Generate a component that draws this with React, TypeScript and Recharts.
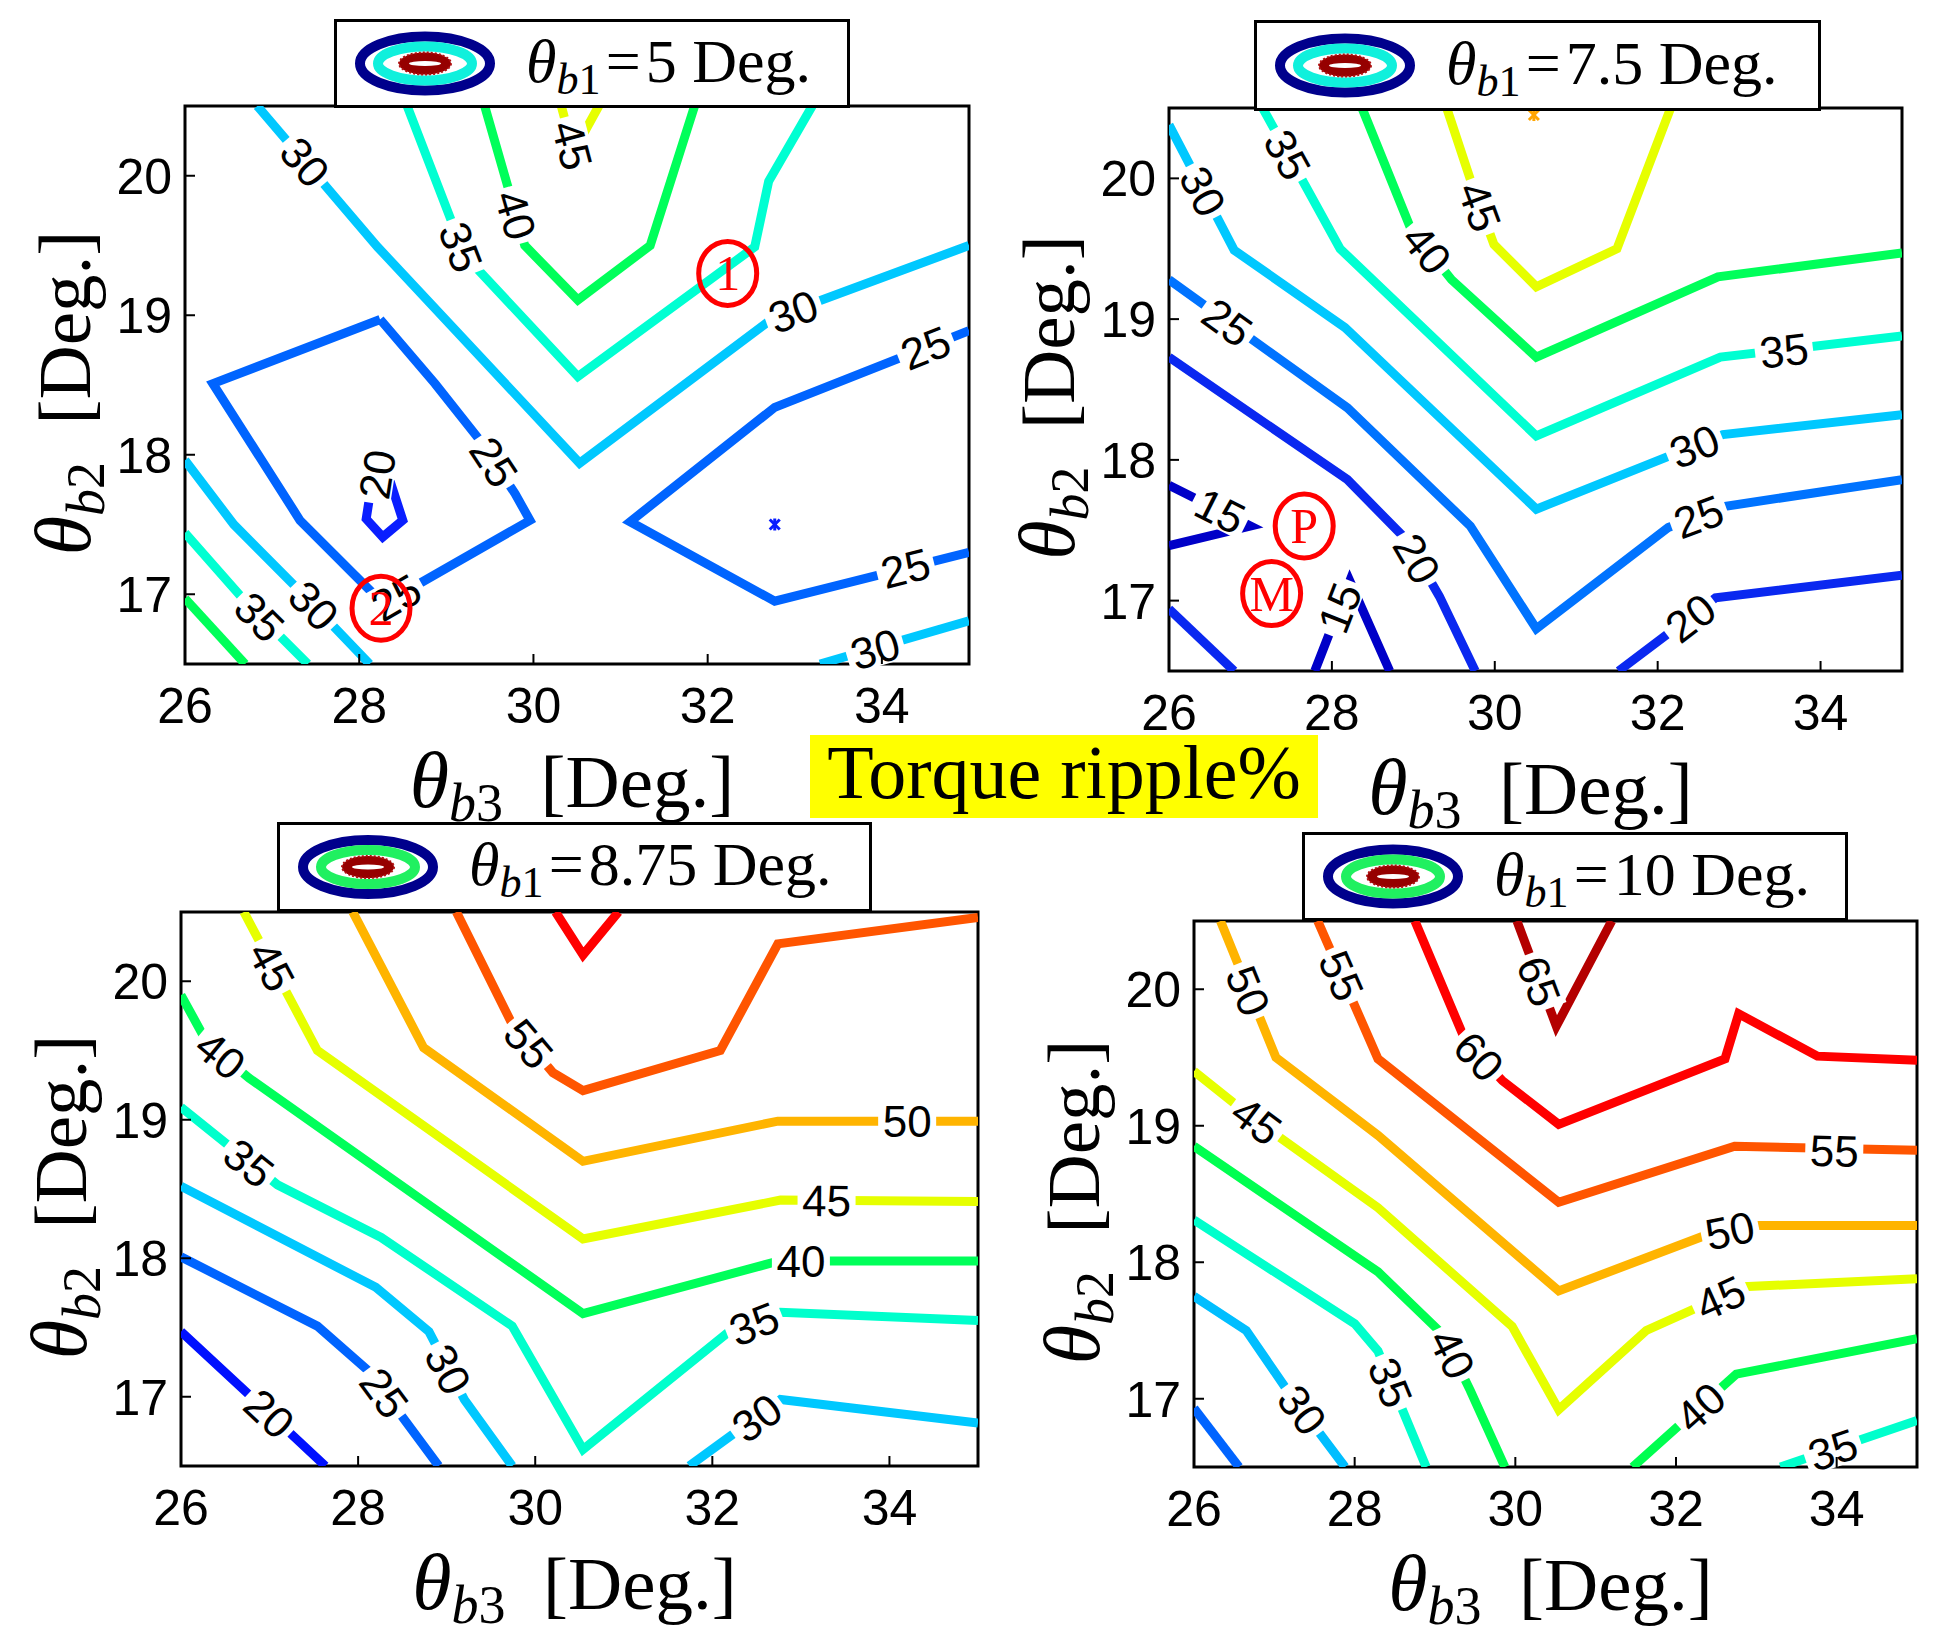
import React from 'react';
import { ComposedChart, Line, XAxis, YAxis, ReferenceDot, ReferenceArea, Legend } from 'recharts';

type P = [number, number];
interface Contour { level: number; pts: P[] }
interface Lbl { x: number; y: number; text: string }
interface Mark { x: number; y: number; text: string }
interface Spot { x: number; y: number; level: number }

// ---------- shared axis data ----------
const xTicks = [26, 28, 30, 32, 34];
const yTicks = [17, 18, 19, 20];
const xDomain: [number, number] = [26, 35];
const yDomain: [number, number] = [16.5, 20.5];

// ---------- panel 1 : theta_b1 = 5 ----------
const plot1Contours: Contour[] = [
  { level: 30, pts: [[26.83, 20.5], [28.21, 19.49], [30.53, 17.94], [32.75, 18.98], [35, 19.5]] },
  { level: 35, pts: [[28.55, 20.5], [29.21, 19.43], [30.51, 18.56], [32.54, 19.49], [32.7, 19.96], [33.2, 20.5]] },
  { level: 40, pts: [[29.44, 20.5], [29.9, 19.5], [30.51, 19.11], [31.34, 19.5], [31.85, 20.5]] },
  { level: 45, pts: [[30.32, 20.5], [30.46, 20.17], [30.75, 20.5]] },
  { level: 25, pts: [[28.24, 18.97], [28.87, 18.51], [29.39, 18.1], [29.79, 17.72], [29.96, 17.53], [28.28, 16.93], [27.32, 17.53], [26.32, 18.51], [28.24, 18.97]] },
  { level: 20, pts: [[28.18, 17.94], [28.08, 17.54], [28.27, 17.41], [28.5, 17.53], [28.36, 17.8], [28.18, 17.94]] },
  { level: 25, pts: [[35, 18.89], [32.77, 18.34], [31.11, 17.52], [32.77, 16.95], [35, 17.3]] },
  { level: 30, pts: [[33.29, 16.5], [35, 16.81]] },
  { level: 30, pts: [[26, 17.96], [26.56, 17.5], [27.26, 17.06], [28.12, 16.5]] },
  { level: 35, pts: [[26, 17.44], [26.69, 16.95], [27.41, 16.5]] },
  { level: 40, pts: [[26, 16.97], [26.69, 16.5]] },
];
const plot1Labels: Lbl[] = [
  { x: 27.38, y: 20.1, text: '30' }, { x: 29.17, y: 19.49, text: '35' }, { x: 29.8, y: 19.72, text: '40' },
  { x: 30.45, y: 20.22, text: '45' }, { x: 32.98, y: 19.03, text: '30' }, { x: 34.5, y: 18.77, text: '25' },
  { x: 34.27, y: 17.19, text: '25' }, { x: 29.55, y: 17.95, text: '25' }, { x: 28.42, y: 16.98, text: '25' },
  { x: 28.2, y: 17.86, text: '20' }, { x: 27.48, y: 16.92, text: '30' }, { x: 26.86, y: 16.84, text: '35' },
  { x: 33.92, y: 16.61, text: '30' },
];
const plot1Marks: Mark[] = [{ x: 32.23, y: 19.3, text: '1' }, { x: 28.25, y: 16.9, text: '2' }];
const plot1Spots: Spot[] = [{ x: 32.77, y: 17.5, level: 20 }];

// ---------- panel 2 : theta_b1 = 7.5 ----------
const plot2Contours: Contour[] = [
  { level: 30, pts: [[26, 20.38], [26.8, 19.49], [28.16, 18.94], [30.51, 17.65], [32.8, 18.18], [35, 18.32]] },
  { level: 35, pts: [[27.15, 20.5], [28.1, 19.5], [30.51, 18.17], [32.77, 18.73], [35, 18.88]] },
  { level: 40, pts: [[28.37, 20.5], [28.97, 19.64], [29.47, 19.28], [30.51, 18.73], [32.74, 19.3], [35, 19.47]] },
  { level: 45, pts: [[29.41, 20.5], [29.73, 19.94], [29.99, 19.53], [30.51, 19.23], [31.5, 19.5], [32.16, 20.5]] },
  { level: 25, pts: [[26, 19.28], [28.19, 18.37], [29.7, 17.53], [30.51, 16.8], [32.13, 17.52], [32.83, 17.67], [35, 17.86]] },
  { level: 20, pts: [[26, 18.73], [28.19, 17.86], [28.92, 17.43], [29.32, 17.03], [29.76, 16.5]] },
  { level: 20, pts: [[31.52, 16.5], [32.71, 17.02], [35, 17.18]] },
  { level: 15, pts: [[26, 17.82], [27.0, 17.53], [26, 17.39]] },
  { level: 20, pts: [[26, 16.94], [26.8, 16.5]] },
  { level: 15, pts: [[27.79, 16.5], [28.22, 17.14], [28.71, 16.5]] },
];
const plot2Labels: Lbl[] = [
  { x: 26.42, y: 19.91, text: '30' }, { x: 27.46, y: 20.17, text: '35' }, { x: 29.17, y: 19.5, text: '40' },
  { x: 29.82, y: 19.8, text: '45' }, { x: 26.72, y: 18.98, text: '25' }, { x: 33.55, y: 18.78, text: '35' },
  { x: 32.45, y: 18.1, text: '30' }, { x: 32.5, y: 17.6, text: '25' }, { x: 32.4, y: 16.88, text: '20' },
  { x: 29.05, y: 17.3, text: '20' }, { x: 26.63, y: 17.64, text: '15' }, { x: 28.09, y: 16.95, text: '15' },
];
const plot2Marks: Mark[] = [{ x: 27.66, y: 17.53, text: 'P' }, { x: 27.26, y: 17.05, text: 'M' }];
const plot2Spots: Spot[] = [{ x: 30.48, y: 20.45, level: 50 }];

// ---------- panel 3 : theta_b1 = 8.75 ----------
const plot3Contours: Contour[] = [
  { level: 60, pts: [[30.23, 20.5], [30.54, 20.19], [30.94, 20.5]] },
  { level: 55, pts: [[29.11, 20.5], [29.74, 19.69], [30.2, 19.34], [30.54, 19.21], [32.09, 19.5], [32.74, 20.27], [35, 20.46]] },
  { level: 50, pts: [[27.94, 20.5], [28.74, 19.52], [30.54, 18.7], [32.74, 18.99], [35, 18.99]] },
  { level: 45, pts: [[26.71, 20.5], [27.54, 19.5], [30.54, 18.14], [32.77, 18.42], [35, 18.41]] },
  { level: 40, pts: [[26, 19.9], [26.3, 19.55], [26.77, 19.3], [30.54, 17.6], [32.75, 17.98], [35, 17.98]] },
  { level: 35, pts: [[26, 19.09], [27.09, 18.53], [28.26, 18.15], [29.74, 17.51], [30.54, 16.62], [32.17, 17.46], [32.77, 17.61], [35, 17.55]] },
  { level: 30, pts: [[26, 18.52], [28.2, 17.79], [28.8, 17.47], [29.2, 16.98], [29.74, 16.5]] },
  { level: 30, pts: [[31.74, 16.5], [32.77, 16.98], [35, 16.81]] },
  { level: 25, pts: [[26, 18.01], [27.54, 17.51], [28.11, 17.19], [28.91, 16.5]] },
  { level: 20, pts: [[26, 17.47], [26.86, 16.96], [27.63, 16.5]] },
];
const plot3Labels: Lbl[] = [
  { x: 29.93, y: 19.55, text: '55' }, { x: 34.2, y: 18.99, text: '50' }, { x: 27.03, y: 20.11, text: '45' },
  { x: 33.29, y: 18.42, text: '45' }, { x: 26.45, y: 19.47, text: '40' }, { x: 33.0, y: 17.98, text: '40' },
  { x: 26.77, y: 18.69, text: '35' }, { x: 32.47, y: 17.53, text: '35' }, { x: 29.02, y: 17.2, text: '30' },
  { x: 32.5, y: 16.85, text: '30' }, { x: 28.3, y: 17.03, text: '25' }, { x: 27.0, y: 16.88, text: '20' },
];

// ---------- panel 4 : theta_b1 = 10 ----------
const plot4Contours: Contour[] = [
  { level: 65, pts: [[30.02, 20.5], [30.51, 19.73], [31.2, 20.5]] },
  { level: 60, pts: [[28.75, 20.5], [29.38, 19.62], [29.84, 19.33], [30.54, 19.01], [32.61, 19.49], [32.78, 19.82], [33.76, 19.51], [35, 19.48]] },
  { level: 55, pts: [[27.54, 20.5], [28.29, 19.49], [30.54, 18.44], [32.73, 18.85], [35, 18.82]] },
  { level: 50, pts: [[26.33, 20.5], [27.02, 19.5], [28.29, 18.93], [30.54, 17.79], [32.38, 18.2], [32.96, 18.27], [35, 18.27]] },
  { level: 45, pts: [[26, 19.4], [26.53, 19.15], [27.08, 18.91], [28.29, 18.4], [29.96, 17.53], [30.54, 16.92], [31.63, 17.5], [32.84, 17.82], [35, 17.88]] },
  { level: 40, pts: [[26, 18.85], [28.29, 17.93], [29.1, 17.47], [29.44, 17.06], [29.87, 16.5]] },
  { level: 40, pts: [[31.46, 16.5], [32.75, 17.18], [35, 17.44]] },
  { level: 35, pts: [[26, 18.31], [28.0, 17.55], [28.29, 17.35], [28.89, 16.5]] },
  { level: 35, pts: [[33.3, 16.5], [35, 16.84]] },
  { level: 30, pts: [[26, 17.75], [26.65, 17.5], [27.14, 17.08], [27.88, 16.5]] },
  { level: 25, pts: [[26, 16.93], [26.56, 16.5]] },
];
const plot4Labels: Lbl[] = [
  { x: 30.3, y: 20.06, text: '65' }, { x: 29.55, y: 19.51, text: '60' }, { x: 27.84, y: 20.1, text: '55' },
  { x: 33.97, y: 18.82, text: '55' }, { x: 26.68, y: 19.99, text: '50' }, { x: 32.67, y: 18.235, text: '50' },
  { x: 26.78, y: 19.04, text: '45' }, { x: 32.55, y: 17.74, text: '45' }, { x: 29.22, y: 17.33, text: '40' },
  { x: 32.3, y: 16.94, text: '40' }, { x: 28.45, y: 17.12, text: '35' }, { x: 33.95, y: 16.63, text: '35' },
  { x: 27.35, y: 16.92, text: '30' },
];

const b1Values = ['5', '7.5', '8.75', '10'];
const figureTitle = 'Torque ripple%';

// ---------- styles ----------
const SANS = "'Liberation Sans', Arial, Helvetica, sans-serif";
const SERIF = "'Liberation Serif', 'Times New Roman', serif";

const colors1: Record<number, string> = { 20: '#0a1eff', 25: '#0064ff', 30: '#00c8ff', 35: '#00ffd2', 40: '#00ff5a', 45: '#e6ff00' };
const colors2: Record<number, string> = { 15: '#0000c8', 20: '#0a28f0', 25: '#0073ff', 30: '#00c8ff', 35: '#00ffd2', 40: '#00ff5a', 45: '#e6ff00', 50: '#ffa500' };
const colors3: Record<number, string> = { 20: '#0010ff', 25: '#0064ff', 30: '#00c8ff', 35: '#00ffcc', 40: '#00ff5a', 45: '#e6ff00', 50: '#ffb400', 55: '#ff5500', 60: '#ff0000' };
const colors4: Record<number, string> = { 25: '#0064ff', 30: '#00beff', 35: '#00ffcc', 40: '#00ff50', 45: '#e6ff00', 50: '#ffb400', 55: '#ff5500', 60: '#ff0000', 65: '#b40000' };

interface Box { left: number; top: number; right: number; bottom: number }
interface LegendBoxPos { left: number; top: number; width: number; height: number }

const layouts: { box: Box; legend: LegendBoxPos; ring: string }[] = [
  { box: { left: 185, top: 106, right: 969, bottom: 664 }, legend: { left: 334, top: 19, width: 516, height: 89 }, ring: '#10f0dc' },
  { box: { left: 1169, top: 108, right: 1902, bottom: 671 }, legend: { left: 1254, top: 20, width: 567, height: 91 }, ring: '#10f0dc' },
  { box: { left: 181, top: 912, right: 978, bottom: 1466 }, legend: { left: 277, top: 822, width: 595, height: 90 }, ring: '#20f060' },
  { box: { left: 1194, top: 921, right: 1917, bottom: 1467 }, legend: { left: 1302, top: 832, width: 546, height: 89 }, ring: '#20f060' },
];

// angle of the contour at a label, in screen degrees
function labelAngle(l: Lbl, contours: Contour[], kx: number, ky: number): number {
  let best = Infinity;
  let ang = 0;
  for (const c of contours) {
    if (String(c.level) !== l.text) continue;
    for (let i = 0; i < c.pts.length - 1; i++) {
      const [x1, y1] = c.pts[i];
      const [x2, y2] = c.pts[i + 1];
      const ax = (x1 - l.x) * kx, ay = (y1 - l.y) * ky;
      const bx = (x2 - l.x) * kx, by = (y2 - l.y) * ky;
      const dx = bx - ax, dy = by - ay;
      const len = dx * dx + dy * dy || 1;
      const t = Math.max(0, Math.min(1, -(ax * dx + ay * dy) / len));
      const d = Math.hypot(ax + t * dx, ay + t * dy);
      if (d < best) {
        best = d;
        ang = (Math.atan2(-dy, dx) * 180) / Math.PI;
      }
    }
  }
  if (ang > 90) ang -= 180;
  if (ang < -90) ang += 180;
  return ang;
}

function ContourText({ cx, cy, text, angle }: { cx: number; cy: number; text: string; angle: number }) {
  const w = text.length * 25 + 8;
  return (
    <g transform={`translate(${cx},${cy}) rotate(${angle})`}>
      <rect x={-w / 2} y={-18} width={w} height={36} fill="#fff" />
      <text x={0} y={16} textAnchor="middle" fontSize={44} fontFamily={SANS} fill="#000">{text}</text>
    </g>
  );
}

function RedMark({ cx, cy, text }: { cx: number; cy: number; text: string }) {
  return (
    <g>
      <ellipse cx={cx} cy={cy} rx={29} ry={32} fill="none" stroke="#ff0000" strokeWidth={5} />
      <text x={cx} y={cy + 17} textAnchor="middle" fontSize={50} fontFamily={SERIF} fill="#ff0000">{text}</text>
    </g>
  );
}

function SpotMark({ cx, cy, color }: { cx: number; cy: number; color: string }) {
  return (
    <g stroke={color} strokeWidth={3}>
      <line x1={cx - 5} y1={cy - 5} x2={cx + 5} y2={cy + 5} />
      <line x1={cx - 5} y1={cy + 5} x2={cx + 5} y2={cy - 5} />
      <line x1={cx} y1={cy - 6} x2={cx} y2={cy + 6} />
    </g>
  );
}

function LegendBox({ w, h, ring, b1 }: { w: number; h: number; ring: string; b1: string }) {
  return (
    <svg width={w} height={h} style={{ display: 'block' }}>
      <rect x={1.5} y={1.5} width={w - 3} height={h - 3} fill="#fff" stroke="#000" strokeWidth={3} />
      <g transform={`translate(91, ${h / 2})`}>
        <ellipse rx={65} ry={27} fill="none" stroke="#00008c" strokeWidth={10} />
        <ellipse rx={47} ry={17} fill="none" stroke={ring} strokeWidth={10} />
        <ellipse rx={26} ry={11} fill="#960000" stroke="#b01010" strokeWidth={2} strokeDasharray="2 2" />
        <ellipse rx={16} ry={2.5} fill="#fff" />
      </g>
      <text x={192} y={h / 2 + 18} fontSize={62} fontFamily={SERIF} fill="#000">
        <tspan fontStyle="italic">θ</tspan>
        <tspan fontStyle="italic" fontSize={44} dy={12}>b</tspan>
        <tspan fontSize={44}>1</tspan>
        <tspan dy={-12}>{'\u200a=\u200a' + b1 + ' Deg.'}</tspan>
      </text>
    </svg>
  );
}

function AxisTitle({ sub }: { sub: string }) {
  return (
    <>
      <tspan fontStyle="italic" fontSize={80}>θ</tspan>
      <tspan fontStyle="italic" fontSize={54} dy={14}>b</tspan>
      <tspan fontSize={54}>{sub}</tspan>
      <tspan dy={-14}>{'\u2002[Deg.]'}</tspan>
    </>
  );
}

interface PanelProps {
  contours: Contour[];
  labels: Lbl[];
  marks: Mark[];
  spots: Spot[];
  colors: Record<number, string>;
  idx: number;
}

function Panel({ contours, labels, marks, spots, colors, idx }: PanelProps) {
  const { box, legend, ring } = layouts[idx];
  const ML = 120, YW = 60, MT = 110, MB = 110, XH = 60, MR = 12;
  const chartLeft = box.left - ML - YW;
  const chartTop = box.top - MT;
  const bw = box.right - box.left;
  const bh = box.bottom - box.top;
  const W = bw + ML + YW + MR;
  const H = bh + MT + MB + XH;
  const kx = bw / (xDomain[1] - xDomain[0]);
  const ky = bh / (yDomain[1] - yDomain[0]);

  const xTick = (p: any) => (
    <g>
      <line x1={p.x} x2={p.x} y1={p.y} y2={p.y - 10} stroke="#000" strokeWidth={2} />
      <text x={p.x} y={p.y + 59} textAnchor="middle" fontSize={50} fontFamily={SANS} fill="#000">{p.payload.value}</text>
    </g>
  );
  const yTick = (p: any) => (
    <g>
      <line x1={p.x} x2={p.x + 10} y1={p.y} y2={p.y} stroke="#000" strokeWidth={2} />
      <text x={p.x - 13} y={p.y + 18} textAnchor="end" fontSize={50} fontFamily={SANS} fill="#000">{p.payload.value}</text>
    </g>
  );
  const topTick = (p: any) => <line x1={p.x} x2={p.x} y1={p.y} y2={p.y + 10} stroke="#000" strokeWidth={2} />;
  const rightTick = (p: any) => <line x1={p.x - 10} x2={p.x} y1={p.y} y2={p.y} stroke="#000" strokeWidth={2} />;

  const xTitle = (p: any) => {
    const vb = p.viewBox || {};
    const cx = vb.x + vb.width / 2 - 5;
    const by = vb.y + 143;
    return (
      <text x={cx} y={by} textAnchor="middle" fontSize={75} fontFamily={SERIF} fill="#000">
        <AxisTitle sub="3" />
      </text>
    );
  };
  const yTitle = (p: any) => {
    const vb = p.viewBox || {};
    const bx = vb.x + vb.width - 95;
    const cy = vb.y + vb.height / 2 + 8;
    return (
      <text x={bx} y={cy} transform={`rotate(-90, ${bx}, ${cy})`} textAnchor="middle" fontSize={75} fontFamily={SERIF} fill="#000">
        <AxisTitle sub="2" />
      </text>
    );
  };

  return (
    <div style={{ position: 'absolute', left: chartLeft, top: chartTop }}>
      <ComposedChart width={W} height={H} margin={{ top: MT, right: MR, bottom: MB, left: ML }}>
        <XAxis dataKey="x" type="number" domain={xDomain} ticks={xTicks} allowDataOverflow height={XH}
          axisLine={false} tickLine={false} tickSize={0} tickMargin={0} tick={xTick} label={xTitle} />
        <XAxis xAxisId="top" orientation="top" type="number" domain={xDomain} ticks={xTicks} allowDataOverflow height={0}
          axisLine={false} tickLine={false} tickSize={0} tickMargin={0} tick={topTick} />
        <YAxis type="number" domain={yDomain} ticks={yTicks} allowDataOverflow width={YW}
          axisLine={false} tickLine={false} tickSize={0} tickMargin={0} tick={yTick} label={yTitle} />
        <YAxis yAxisId="right" orientation="right" type="number" domain={yDomain} ticks={yTicks} allowDataOverflow width={0}
          axisLine={false} tickLine={false} tickSize={0} tickMargin={0} tick={rightTick} />
        {contours.map((c, i) => (
          <Line key={`c${i}`} data={c.pts.map(([x, y]) => ({ x, y }))} dataKey="y" type="linear"
            stroke={colors[c.level]} strokeWidth={9} dot={false} activeDot={false}
            isAnimationActive={false} legendType="none" />
        ))}
        {spots.map((s, i) => (
          <ReferenceDot key={`s${i}`} x={s.x} y={s.y} r={0} ifOverflow="visible"
            shape={(p: any) => <SpotMark cx={p.cx} cy={p.cy} color={colors[s.level]} />} />
        ))}
        {labels.map((l, i) => {
          const a = labelAngle(l, contours, kx, ky);
          return (
            <ReferenceDot key={`l${i}`} x={l.x} y={l.y} r={0} ifOverflow="visible"
              shape={(p: any) => <ContourText cx={p.cx} cy={p.cy} text={l.text} angle={a} />} />
          );
        })}
        {marks.map((m, i) => (
          <ReferenceDot key={`m${i}`} x={m.x} y={m.y} r={0} ifOverflow="visible"
            shape={(p: any) => <RedMark cx={p.cx} cy={p.cy} text={m.text} />} />
        ))}
        <ReferenceArea x1={xDomain[0]} x2={xDomain[1]} y1={yDomain[0]} y2={yDomain[1]} fill="none" fillOpacity={0}
          stroke="#000" strokeWidth={3} ifOverflow="visible" />
        <Legend layout="vertical" align="center" verticalAlign="middle"
          wrapperStyle={{ position: 'absolute', left: legend.left - chartLeft, top: legend.top - chartTop, width: legend.width, height: legend.height, margin: 0, padding: 0 }}
          content={() => <LegendBox w={legend.width} h={legend.height} ring={ring} b1={b1Values[idx]} />} />
      </ComposedChart>
    </div>
  );
}

export default function App() {
  return (
    <div style={{ position: 'relative', width: 1937, height: 1648, background: '#fff', overflow: 'hidden' }}>
      <style>{'body{margin:0;background:#fff}'}</style>
      <Panel idx={0} contours={plot1Contours} labels={plot1Labels} marks={plot1Marks} spots={plot1Spots} colors={colors1} />
      <Panel idx={1} contours={plot2Contours} labels={plot2Labels} marks={plot2Marks} spots={plot2Spots} colors={colors2} />
      <Panel idx={2} contours={plot3Contours} labels={plot3Labels} marks={[]} spots={[]} colors={colors3} />
      <Panel idx={3} contours={plot4Contours} labels={plot4Labels} marks={[]} spots={[]} colors={colors4} />
      <svg width={508} height={83} style={{ position: 'absolute', left: 810, top: 735 }}>
        <rect x={0} y={0} width={508} height={83} fill="#ffff00" />
        <text x={254} y={63} textAnchor="middle" fontSize={76} fontFamily={SERIF} fill="#000">{figureTitle}</text>
      </svg>
    </div>
  );
}
